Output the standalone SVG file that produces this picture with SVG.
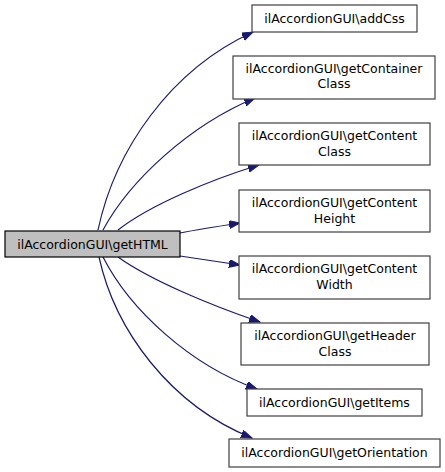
<svg xmlns="http://www.w3.org/2000/svg" width="445" height="472" viewBox="0 0 445 472">
<defs>
<style>
.node rect{fill:#ffffff;stroke:#404040;stroke-width:1.2}
.node.main rect{fill:#bfbfbf;stroke:#000000}
.node text{font-family:"DejaVu Sans",sans-serif;font-size:12.5px;fill:#000000;text-anchor:middle}
.edges path{fill:none;stroke:#191970;stroke-width:1.2;marker-end:url(#arr)}
</style>
<marker id="arr" markerUnits="userSpaceOnUse" markerWidth="12" markerHeight="9" refX="11" refY="4" orient="auto">
<polygon points="0,0 11,4 0,8" fill="#191970" stroke="#191970" stroke-width="1"/>
</marker>
</defs>
<rect width="445" height="472" fill="#ffffff"/>
<g class="edges" id="edges">
<path d="M98,230 C115,150 170,70 253,32"/>
<path d="M103,230 C130,180 190,125 255,98"/>
<path d="M118,230 C150,205 210,180 259,165"/>
<path d="M180,233 C200,229 220,226 240,223"/>
<path d="M180,256 C200,259 220,262 240,265"/>
<path d="M118,257 C150,280 210,305 260,322"/>
<path d="M103,257 C130,310 190,365 257,389"/>
<path d="M99,257 C115,330 170,405 252,438"/>
</g>
<g class="node main" id="getHTML">
<rect x="5" y="231" width="175" height="26"/>
<text x="92.5" y="248.5">ilAccordionGUI\getHTML</text>
</g>
<g class="node" id="addCss">
<rect x="252" y="5" width="165" height="27"/>
<text x="334.5" y="23">ilAccordionGUI\addCss</text>
</g>
<g class="node" id="getContainerClass">
<rect x="233" y="56" width="202" height="43"/>
<text x="334" y="72.5">ilAccordionGUI\getContainer</text>
<text x="334" y="88">Class</text>
</g>
<g class="node" id="getContentClass">
<rect x="239" y="123" width="191" height="42"/>
<text x="334.5" y="140">ilAccordionGUI\getContent</text>
<text x="334.5" y="155.5">Class</text>
</g>
<g class="node" id="getContentHeight">
<rect x="239" y="190" width="191" height="42"/>
<text x="334.5" y="207">ilAccordionGUI\getContent</text>
<text x="334.5" y="222.5">Height</text>
</g>
<g class="node" id="getContentWidth">
<rect x="239" y="256" width="191" height="43"/>
<text x="334.5" y="273">ilAccordionGUI\getContent</text>
<text x="334.5" y="288.5">Width</text>
</g>
<g class="node" id="getHeaderClass">
<rect x="241" y="323" width="188" height="42"/>
<text x="335" y="340">ilAccordionGUI\getHeader</text>
<text x="335" y="355.5">Class</text>
</g>
<g class="node" id="getItems">
<rect x="247" y="389" width="175" height="27"/>
<text x="334.5" y="406.5">ilAccordionGUI\getItems</text>
</g>
<g class="node" id="getOrientation">
<rect x="229" y="439" width="211" height="28"/>
<text x="334.5" y="457">ilAccordionGUI\getOrientation</text>
</g>
</svg>
